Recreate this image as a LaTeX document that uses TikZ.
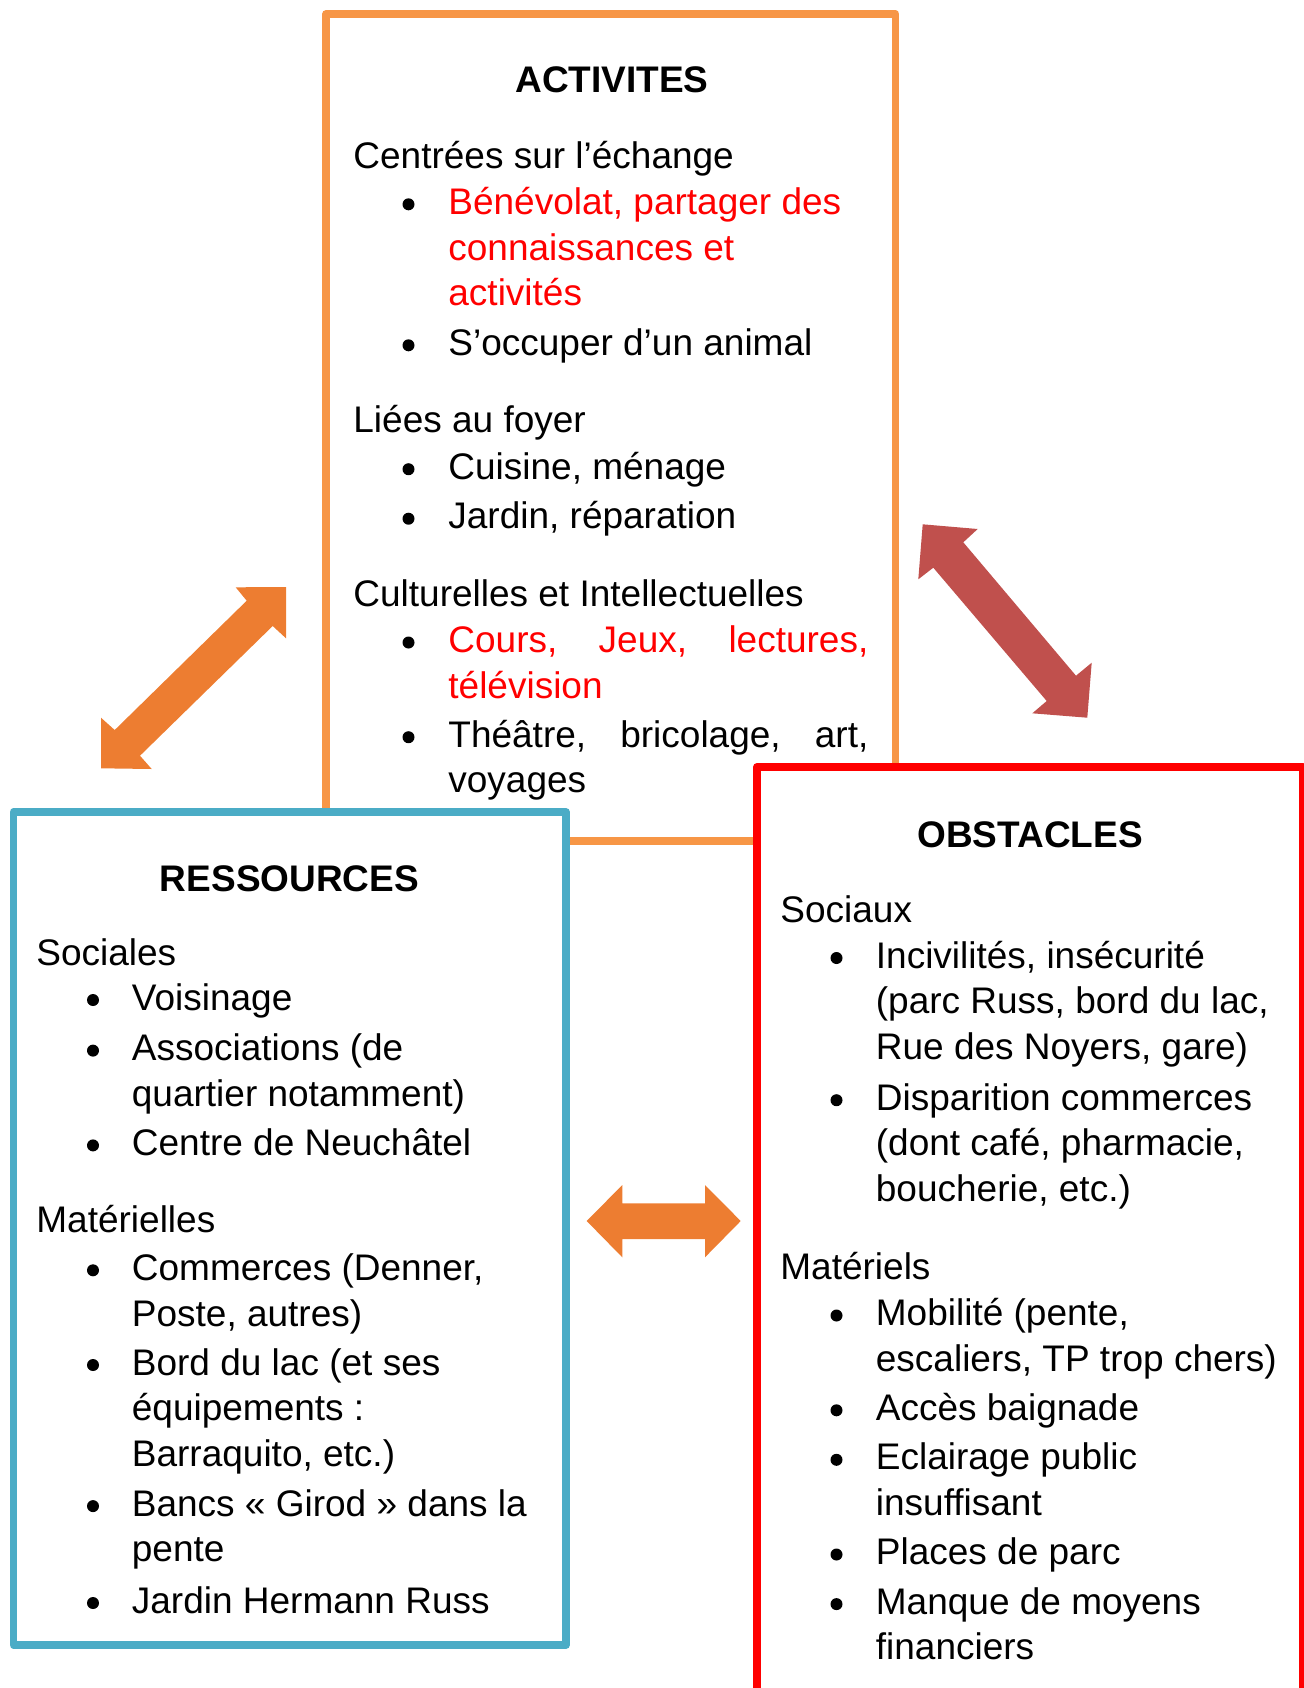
\documentclass[tikz,border=0pt]{standalone}
\usepackage{fontspec}
\setmainfont{Liberation Sans}
\usepackage{xcolor}
\usepackage{tikz}
\definecolor{actorange}{HTML}{F79646}
\definecolor{resblue}{HTML}{4BACC6}
\definecolor{obsred}{HTML}{FF0000}
\definecolor{arrorange}{HTML}{ED7D31}
\definecolor{arrred}{HTML}{C0504D}
\definecolor{hired}{HTML}{FF0000}
\newcommand{\bodysize}{\fontsize{18.5}{22.85}\selectfont}
\newcommand{\ml}[1]{\begin{tabular}[t]{@{}l@{}}#1\end{tabular}}
\tikzset{
  actbox/.style={draw=actorange, line width=3.75pt, line join=round},
  resbox/.style={draw=resblue, fill=white, line width=3.75pt, line join=round},
  obsbox/.style={draw=obsred, fill=white, line width=4pt, line join=round},
  head/.style={anchor=base, inner sep=0pt, font=\bodysize\bfseries},
  lab/.style={anchor=base west, inner sep=0pt, font=\bodysize},
  labr/.style={lab, text=hired},
  dot/.style={circle, fill=black, inner sep=0pt, minimum size=6pt},
}

\begin{document}
\begin{tikzpicture}[x=0.5pt, y=-0.5pt]
  \clip (0,0) rectangle (1304,1688);

  % block arrows
  \fill[arrorange] (286,587) -- (286,638.3) -- (272.7,626) -- (140,755.7) -- (151.7,769)
    -- (101,768.3) -- (101,717.7) -- (114.7,730) -- (246.7,600.7) -- (235.7,587.3) -- cycle;
  \fill[arrred] (922.7,524.3) -- (977.7,529) -- (963.3,542.3) -- (1076,675.7) -- (1091.7,662.7)
    -- (1087.3,717.7) -- (1032.3,713.3) -- (1046.7,701) -- (933.3,567.7) -- (918.3,579.3) -- cycle;
  \fill[arrorange] (586.7,1221) -- (622.3,1185) -- (622.3,1203.3) -- (705,1203.3) -- (705,1185)
    -- (740.7,1221) -- (705,1257.3) -- (705,1239) -- (622.3,1239) -- (622.3,1257.3) -- cycle;

  % boxes
  \draw[actbox] (326,14) rectangle (895.5,841);
  \draw[resbox] (13.5,812) rectangle (566,1645);
  \draw[obsbox] (757,767) rectangle (1303,1692);

  % activites
  \node[head] (act) at (612,92.6) {ACTIVITES};
  \node[lab] (act-g1) at (353,168) {Centrées sur l’échange};
  \node[labr] (a1) at (448,214.3) {\ml{Bénévolat, partager des\\connaissances et\\activités}};
  \node[lab] (a2) at (448,355.3) {S’occuper d’un animal};
  \node[lab] (act-g2) at (353,432.9) {Liées au foyer};
  \node[lab] (a3) at (448,479.2) {Cuisine, ménage};
  \node[lab] (a4) at (448,528.7) {Jardin, réparation};
  \node[lab] (act-g3) at (353,606.2) {Culturelles et Intellectuelles};
  \node[labr] (a5) at (448,652.5) {\ml{\makebox[210pt][s]{Cours, Jeux, lectures,}\\télévision}};
  \node[lab] (a6) at (448,747.2) {\ml{\makebox[210pt][s]{Théâtre, bricolage, art,}\\voyages}};
  \foreach \y in {214.3,355.3,479.2,528.7,652.5,747.2}
    \node[dot] at (408.5,\y-10) {};

  % ressources
  \node[head] (res) at (289.5,891.6) {RESSOURCES};
  \node[lab] (res-g1) at (36,965.5) {Sociales};
  \node[lab] (r1) at (131.5,1010) {Voisinage};
  \node[lab] (r2) at (131.5,1060.6) {\ml{Associations (de\\quartier notamment)}};
  \node[lab] (r3) at (131.5,1155.4) {Centre de Neuchâtel};
  \node[lab] (res-g2) at (36,1232.9) {Matérielles};
  \node[lab] (r4) at (131.5,1280.3) {\ml{Commerces (Denner,\\Poste, autres)}};
  \node[lab] (r5) at (131.5,1375) {\ml{Bord du lac (et ses\\équipements :\\Barraquito, etc.)}};
  \node[lab] (r6) at (131.5,1516.1) {\ml{Bancs « Girod » dans la\\pente}};
  \node[lab] (r7) at (131.5,1613) {Jardin Hermann Russ};
  \foreach \y in {1010,1060.6,1155.4,1280.3,1375,1516.1,1613}
    \node[dot] at (93,\y-10) {};

  % obstacles
  \node[head] (obs) at (1030,847.4) {OBSTACLES};
  \node[lab] (obs-g1) at (780,922.8) {Sociaux};
  \node[lab] (o1) at (875.5,968) {\ml{Incivilités, insécurité\\(parc Russ, bord du lac,\\Rue des Noyers, gare)}};
  \node[lab] (o2) at (875.5,1110.2) {\ml{Disparition commerces\\(dont café, pharmacie,\\boucherie, etc.)}};
  \node[lab] (obs-g2) at (780,1279.2) {Matériels};
  \node[lab] (o3) at (875.5,1325.5) {\ml{Mobilité (pente,\\escaliers, TP trop chers)}};
  \node[lab] (o4) at (875.5,1420.3) {Accès baignade};
  \node[lab] (o5) at (875.5,1469.8) {\ml{Eclairage public\\insuffisant}};
  \node[lab] (o6) at (875.5,1564.5) {Places de parc};
  \node[lab] (o7) at (875.5,1614.1) {\ml{Manque de moyens\\financiers}};
  \foreach \y in {968,1110.2,1325.5,1420.3,1469.8,1564.5,1614.1}
    \node[dot] at (836.5,\y-10) {};
\end{tikzpicture}
\end{document}
